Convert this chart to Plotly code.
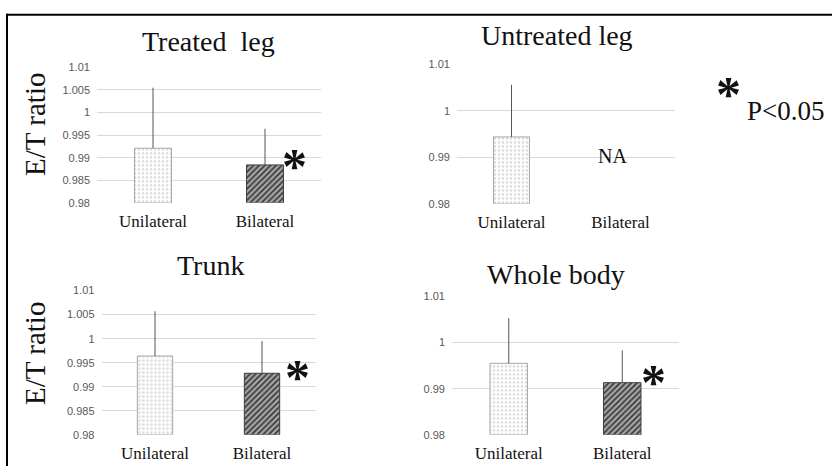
import plotly.graph_objects as go

W, H = 832, 472

# ---- data ----
categories = ["Unilateral", "Bilateral"]
panel_titles = ["Treated\u00a0 leg", "Untreated leg", "Trunk", "Whole body"]

treated_mean = [0.9921, 0.9884]
treated_sd = [0.0134, 0.0080]
untreated_mean = [0.9944, None]
untreated_sd = [0.0112, None]
trunk_mean = [0.9964, 0.9928]
trunk_sd = [0.0093, 0.0067]
whole_mean = [0.9955, 0.9913]
whole_sd = [0.0098, 0.0070]

fine_ticks = [0.98, 0.985, 0.99, 0.995, 1.0, 1.005, 1.01]
fine_labels = ["0.98", "0.985", "0.99", "0.995", "1", "1.005", "1.01"]
coarse_ticks = [0.98, 0.99, 1.0, 1.01]
coarse_labels = ["0.98", "0.99", "1", "1.01"]

BASE = 0.98
Y_RANGE = [0.98, 1.01]


def px_x(p):
    return p / W


def px_y(p):
    return 1 - p / H


# plot-area boxes in pixels: (left, right, top, bottom)
boxes = [
    (97, 321, 63, 202),
    (457, 675, 60, 203),
    (101.5, 315.5, 292, 440),
    (452, 679, 298, 440),
]

panels = [
    (treated_mean, treated_sd, fine_ticks, fine_labels),
    (untreated_mean, untreated_sd, coarse_ticks, coarse_labels),
    (trunk_mean, trunk_sd, fine_ticks, fine_labels),
    (whole_mean, whole_sd, coarse_ticks, coarse_labels),
]

styles = [
    dict(  # Unilateral: light dotted fill
        color="white",
        line=dict(color="#a6a6a6", width=1),
        pattern=dict(shape=".", fgcolor="#b4b4b4", bgcolor="white",
                     size=4, solidity=0.35, fillmode="overlay"),
    ),
    dict(  # Bilateral: dark diagonal hatch
        color="#8c8c8c",
        line=dict(color="#3c3c3c", width=1),
        pattern=dict(shape="/", fgcolor="#3a3a3a", bgcolor="#a8a8a8",
                     size=4, solidity=0.45, fillmode="replace"),
    ),
]

fig = go.Figure()
layout = {}
serif = "Liberation Serif, Times New Roman, serif"
sans = "Liberation Sans, Arial, sans-serif"

for i, ((means, sds, tv, tt), box) in enumerate(zip(panels, boxes)):
    n = i + 1
    xa = "x" if n == 1 else f"x{n}"
    ya = "y" if n == 1 else f"y{n}"
    for j, cat in enumerate(categories):
        if means[j] is None:
            continue
        fig.add_trace(go.Bar(
            x=[cat], y=[means[j] - BASE], base=BASE,
            width=0.33,
            marker=styles[j],
            error_y=dict(type="data", array=[sds[j]], arrayminus=[0],
                         symmetric=False, color="#555555", thickness=1, width=0),
            xaxis=xa, yaxis=ya, showlegend=False,
            hovertemplate="%{x}: " + f"{means[j]:.4f}<extra></extra>",
        ))
    left, right, top, bottom = box
    layout[f"xaxis{'' if n == 1 else n}"] = dict(
        domain=[px_x(left), px_x(right)], anchor=ya,
        type="category", categoryorder="array", categoryarray=categories,
        range=[-0.5, 1.5], showgrid=False, showline=False, zeroline=False,
        ticks="", tickfont=dict(family=serif, size=17, color="#111111"),
        ticklabelstandoff=6, fixedrange=True,
    )
    layout[f"yaxis{'' if n == 1 else n}"] = dict(
        domain=[px_y(bottom), px_y(top)], anchor=xa,
        range=Y_RANGE, tickvals=tv, ticktext=tt,
        showgrid=True, gridcolor="#d9d9d9", gridwidth=1,
        showline=False, zeroline=False, ticks="",
        tickfont=dict(family=sans, size=11, color="#595959"),
        ticklabelstandoff=6, fixedrange=True,
    )

annotations = []
title_pos = [(208, 36), (557, 30), (210, 266), (556, 276)]
for t, (x, y) in zip(panel_titles, title_pos):
    annotations.append(dict(text=t, x=px_x(x), y=px_y(y), xref="paper", yref="paper",
                            showarrow=False, xanchor="center", yanchor="middle",
                            font=dict(family=serif, size=28, color="#111111")))

for y in (122, 357):
    annotations.append(dict(text="E/T ratio", x=px_x(35), y=px_y(y), xref="paper", yref="paper",
                            showarrow=False, textangle=-90, xanchor="center", yanchor="middle",
                            font=dict(family=serif, size=29, color="#111111")))

annotations.append(dict(text="NA", x=px_x(612), y=px_y(154), xref="paper", yref="paper",
                        showarrow=False, xanchor="center", yanchor="middle",
                        font=dict(family=serif, size=20, color="#111111")))

# significance markers
for (x, y) in [(294, 164), (297, 381), (653, 386), (728, 90)]:
    annotations.append(dict(text="<b>*</b>", x=px_x(x), y=px_y(y), xref="paper", yref="paper",
                            showarrow=False, xanchor="center", yanchor="middle",
                            font=dict(family=serif, size=50, color="#111111")))

annotations.append(dict(text="P<0.05", x=px_x(745), y=px_y(108), xref="paper", yref="paper",
                        showarrow=False, xanchor="left", yanchor="middle",
                        font=dict(family=serif, size=27, color="#111111")))

shapes = [
    dict(type="line", xref="paper", yref="paper", x0=px_x(6), x1=1, y0=px_y(9), y1=px_y(9),
         line=dict(color="black", width=2)),
    dict(type="line", xref="paper", yref="paper", x0=px_x(7), x1=px_x(7), y0=0, y1=px_y(8),
         line=dict(color="black", width=2)),
]

fig.update_layout(
    width=W, height=H, margin=dict(l=0, r=0, t=0, b=0),
    paper_bgcolor="white", plot_bgcolor="white",
    barmode="overlay", annotations=annotations, shapes=shapes,
    **layout,
)

fig.write_html("out.html", config={"displayModeBar": False})
